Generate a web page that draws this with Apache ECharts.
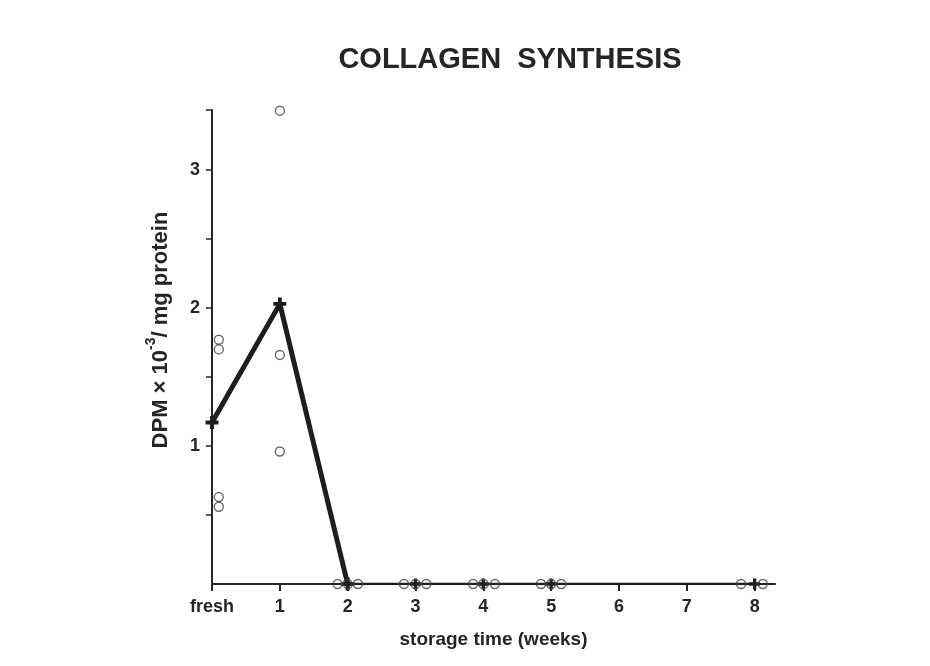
<!DOCTYPE html>
<html>
<head>
<meta charset="utf-8">
<script src="https://cdn.jsdelivr.net/npm/echarts@6/dist/echarts.min.js"></script>
<style>
html,body{margin:0;padding:0;background:#fff;}
#chart{width:930px;height:666px;}
</style>
</head>
<body>
<div id="chart"></div>
<script>
// x tick labels (week 0 = fresh)
var xTickValues = [0, 1, 2, 3, 4, 5, 6, 7, 8];
var xTickLabels = ['fresh', '1', '2', '3', '4', '5', '6', '7', '8'];
var yTickValues = [0.5, 1, 1.5, 2, 2.5, 3, 3.435];
var yLabelValues = [1, 2, 3];
// mean values per storage time
var meanWeeks = [0, 1, 2, 3, 4, 5, 8];
var meanValues = [1.17, 2.03, 0, 0, 0, 0, 0];
var obsX = [0.1, 0.1, 0.1, 0.1, 1.0, 1.0, 1.0, 1.85, 2.0, 2.15, 2.83, 3.0, 3.16, 3.85, 4.0, 4.17, 4.85, 5.0, 5.15, 7.8, 8.12];
var obsY = [1.77, 1.70, 0.63, 0.56, 3.43, 1.66, 0.96, 0, 0, 0, 0, 0, 0, 0, 0, 0, 0, 0, 0, 0, 0];

var chart = echarts.init(document.getElementById('chart'));
var font = '"Liberation Sans", Arial, sans-serif';
var ink = '#252525';
var plusPath = 'path://M3.5,0 L6.5,0 L6.5,3.5 L10,3.5 L10,6.5 L6.5,6.5 L6.5,10 L3.5,10 L3.5,6.5 L0,6.5 L0,3.5 L3.5,3.5 Z';
var thick = [], thin = [];
for (var i = 0; i < meanWeeks.length; i++) {
  if (meanWeeks[i] <= 2) thick.push([meanWeeks[i], meanValues[i]]);
  if (meanWeeks[i] >= 2) thin.push([meanWeeks[i], meanValues[i]]);
}
var obs = obsX.map(function (x, i) { return [x, obsY[i]]; });

chart.setOption({
  animation: false,
  backgroundColor: '#ffffff',
  title: {
    text: 'COLLAGEN  SYNTHESIS',
    left: 505, top: 40, textAlign: 'center',
    textStyle: {fontFamily: font, fontWeight: 'bold', fontSize: 29, color: ink}
  },
  grid: {left: 212, right: 155, top: 110, bottom: 82},
  xAxis: {
    type: 'value', min: 0, max: 8.3,
    name: 'storage time (weeks)', nameLocation: 'middle', nameGap: 46,
    nameTextStyle: {fontFamily: font, fontWeight: 'bold', fontSize: 19, color: ink},
    axisLine: {lineStyle: {color: ink, width: 2}},
    axisTick: {customValues: xTickValues, lineStyle: {color: ink, width: 2}, length: 7},
    splitLine: {show: false},
    axisLabel: {
      customValues: xTickValues,
      margin: 14,
      fontFamily: font, fontWeight: 'bold', fontSize: 18, color: ink,
      formatter: function (v) { var k = xTickValues.indexOf(v); return k >= 0 ? xTickLabels[k] : ''; }
    }
  },
  yAxis: {
    type: 'value', min: 0, max: 3.435,
    name: '{a|DPM × 10}{s|-3}{a|/ mg protein}', nameLocation: 'middle', nameGap: 40, nameRotate: 90,
    nameTextStyle: {
      padding: [0, 0, 0, 34],
      rich: {
        a: {fontFamily: font, fontWeight: 'bold', fontSize: 22, color: ink, verticalAlign: 'bottom', lineHeight: 28},
        s: {fontFamily: font, fontWeight: 'bold', fontSize: 14, color: ink, verticalAlign: 'top', lineHeight: 28}
      }
    },
    axisLine: {show: true, lineStyle: {color: ink, width: 2}},
    axisTick: {show: true, customValues: yTickValues, lineStyle: {color: ink, width: 1.5}, length: 6},
    splitLine: {show: false},
    axisLabel: {
      customValues: yLabelValues,
      margin: 12,
      fontFamily: font, fontWeight: 'bold', fontSize: 18, color: ink,
      formatter: function (v) { return String(v); }
    }
  },
  series: [
    {
      type: 'line', data: thick, symbol: plusPath, symbolSize: 13, showSymbol: true,
      lineStyle: {color: '#1e1e1e', width: 5}, itemStyle: {color: '#1e1e1e'}, z: 3
    },
    {
      type: 'line', data: thin, symbol: plusPath, symbolSize: 11, showSymbol: true,
      lineStyle: {color: '#1e1e1e', width: 2.5}, itemStyle: {color: '#1e1e1e'}, z: 3
    },
    {
      type: 'scatter', data: obs, symbol: 'circle', symbolSize: 9,
      itemStyle: {color: 'rgba(255,255,255,0)', borderColor: '#444', borderWidth: 1.4}, z: 4
    }
  ]
});
</script>
</body>
</html>
